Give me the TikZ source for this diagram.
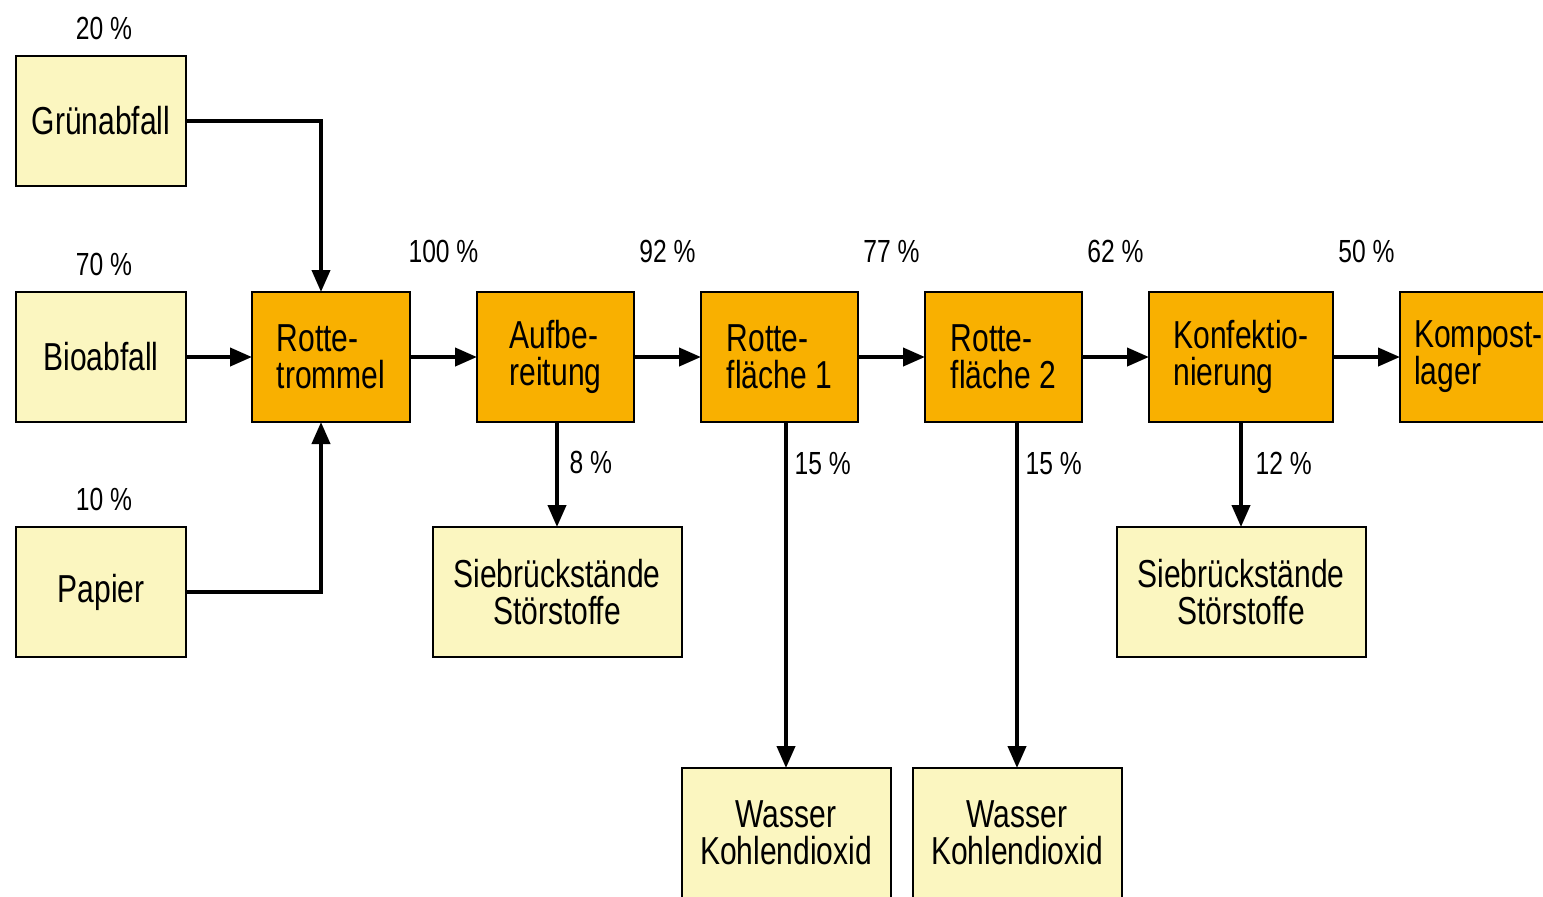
\documentclass[tikz,border=0pt]{standalone}
\usepackage{fontspec}
\setmainfont{Liberation Sans}[FakeStretch=0.77]
\usetikzlibrary{positioning,calc,arrows.meta}
\definecolor{hellgelb}{HTML}{FBF6C0}
\definecolor{rotteorange}{HTML}{F9B000}

\begin{document}
\begin{tikzpicture}[x=0.5pt,y=-0.5pt,->,>={Triangle[length=11pt,width=9pt]},line width=2pt,node distance=33.5pt,
    input/.style={draw,line width=1pt,fill=hellgelb,outer sep=0pt,minimum width=85pt,minimum height=65pt,
        font=\fontsize{19.5}{18.5}\selectfont,align=center},
    stufe/.style={input,fill=rotteorange,minimum width=78.5pt,align=left},
    rest/.style={input,minimum width=124.5pt},
    anteil/.style={font=\fontsize{16}{16}\selectfont}]
        \clip (0,0) rectangle (1543,896);

        \node[input] (gruen) at (101,121) {Grünabfall};
        \node[input] (bio) at (101,357) {Bioabfall};
        \node[input] (papier) at (101,592) {Papier};
        \node[anteil,above=4pt of gruen,xshift=1.5pt] {20 \%};
        \node[anteil,above=4pt of bio,xshift=1.5pt] {70 \%};
        \node[anteil,above=4pt of papier,xshift=1.5pt] {10 \%};

        \node[stufe,minimum width=79pt] (rt) at (331,357) {Rotte-\\trommel};
        \node[stufe] (aufb) [right=of rt] {Aufbe-\\reitung};
        \node[stufe] (rf1) [right=of aufb] {Rotte-\\fläche 1};
        \node[stufe] (rf2) [right=of rf1] {Rotte-\\fläche 2};
        \node[stufe,minimum width=92pt] (konf) [right=of rf2] {Konfektio-\\nierung};
        \node[stufe] (lager) [right=of konf] {Kompost-\\lager};

        \node[rest] (sieb1) at (557,592) {Siebrückstände\\Störstoffe};
        \node[rest] (sieb2) at (1241,592) {Siebrückstände\\Störstoffe};
        \node[input,minimum width=104.5pt] (co1) at (786,833) {Wasser\\Kohlendioxid};
        \node[input,minimum width=104.5pt] (co2) at (1017,833) {Wasser\\Kohlendioxid};

        \draw (gruen) -| ($(rt.north)+(-10,0)$);
        \draw (papier) -| ($(rt.south)+(-10,0)$);
        \path (bio) edge (rt)
            (rt) edge node[anteil,above=43pt] {100 \%} (aufb)
            (aufb) edge node[anteil,above=43pt] {92 \%} (rf1)
            (rf1) edge node[anteil,above=43pt] {77 \%} (rf2)
            (rf2) edge node[anteil,above=43pt] {62 \%} (konf)
            (konf) edge node[anteil,above=43pt] {50 \%} (lager);
        \path (aufb.south -| sieb1) edge node[anteil,right=2pt,pos=0.39] {8 \%} (sieb1.north)
            (rf1.south -| co1) edge node[anteil,right,pos=0.12] {15 \%} (co1.north)
            (rf2.south -| co2) edge node[anteil,right,pos=0.12] {15 \%} (co2.north)
            (konf.south -| sieb2) edge node[anteil,right=3pt,pos=0.39] {12 \%} (sieb2.north);
    \end{tikzpicture}
\end{document}
